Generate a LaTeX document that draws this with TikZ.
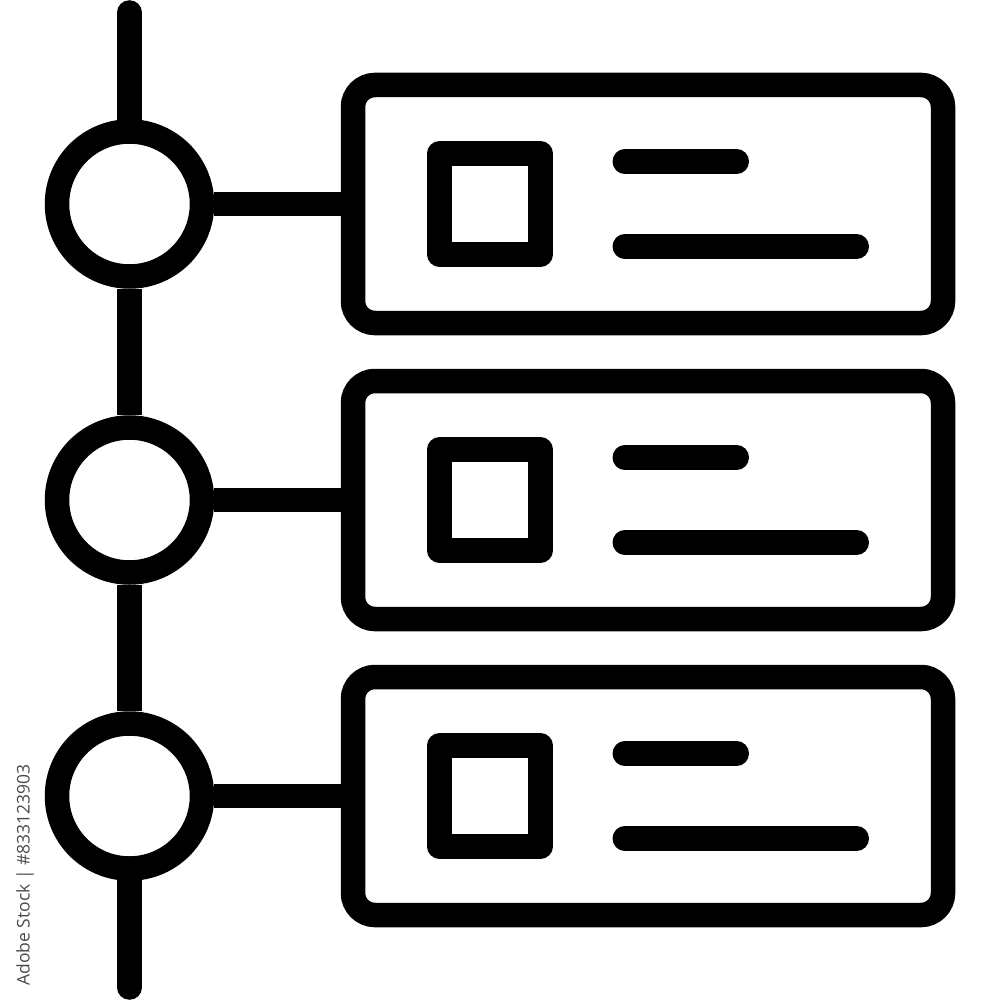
\documentclass[tikz,border=0pt]{standalone}
\usepackage{fontspec}
\newfontfamily\stockfont{Open Sans}
\usepackage{tikz}
\usetikzlibrary{positioning,calc}
\tikzset{
	stamp/.style = {
		font=\stockfont\fontsize{17.5}{17.5}\selectfont, text=black!70
	}
}

\begin{document}
\begin{tikzpicture}[
		x=1pt, y=-1pt,
		line width=24.5pt,
		dot/.style={circle, draw, inner sep=0pt, minimum size=145pt},
		card/.style={rectangle, draw, rounded corners=22pt, inner sep=0pt,
			minimum width=590pt, minimum height=238pt},
		thumb/.style={rectangle, draw, line join=round, inner sep=0pt,
			minimum size=101pt},
		bar/.style={line cap=round}
	]
	\useasboundingbox (0,0) rectangle (1000,1000);
	%\draw[step=100pt,gray,very thin] (0,0) grid (1000,1000);

	\coordinate (top) at (129.5,12.5);
	\coordinate (bottom) at (129.5,987.5);

	\foreach \i in {1,2,3}{
		\node[dot] (c\i) at (129.5,{204+(\i-1)*296}) {};
		\node[card] (r\i) at (648,{204+(\i-1)*296}) {};
		\node[thumb, right=86.5pt of r\i.west] (s\i) {};
		\draw[bar] ($(r\i.west)+(284,-42.5)$) -- ++(112,0);
		\draw[bar] ($(r\i.west)+(284,42.5)$) -- ++(232,0);
		\draw (c\i.east) -- (r\i.west);
	}

	\draw[bar] (top) -- (c1.north);
	\draw (c1.south) -- (c2.north);
	\draw (c2.south) -- (c3.north);
	\draw[bar] (c3.south) -- (bottom);

	\node[stamp, rotate=90] (stock) at (25,875) {Adobe Stock | \#833123903};

\end{tikzpicture}
\end{document}
